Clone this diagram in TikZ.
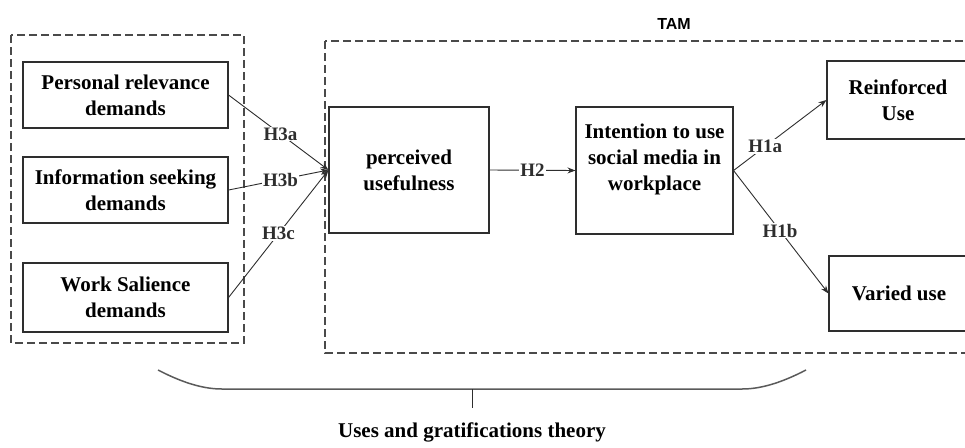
\documentclass[tikz,border=0pt]{standalone}
\usepackage{fontspec}
\setmainfont{Liberation Serif}
\newfontfamily\tamfont{Liberation Sans}
\usepackage{tikz}
\usetikzlibrary{arrows.meta}

\definecolor{linegray}{HTML}{2E2E2E}
\definecolor{dashgray}{HTML}{4A4A4A}
\definecolor{bracegray}{HTML}{5A5A5A}

\begin{document}
\begin{tikzpicture}[x=1pt, y=-1pt, >={Stealth[length=8pt,width=6pt]},
    box/.style={draw=linegray, line width=1.1pt, align=center, inner sep=0pt,
      font=\fontsize{21}{26}\selectfont\bfseries},
    hyp/.style={fill=white, inner sep=1pt, font=\fontsize{19}{21}\selectfont\bfseries},
    frame/.style={draw=dashgray, line width=1.1pt, dash pattern=on 8pt off 4pt}]
    \clip (0,0) rectangle (965,447);

    % dashed frames
    \draw[frame] (11,35) rectangle (244,343);
    \draw[frame] (325,41) rectangle (980,353);
    \node[font=\tamfont\fontsize{16}{18}\selectfont\bfseries] (tam) at (674,24) {TAM};

    % uses and gratifications demands
    \node[box, minimum width=205pt, minimum height=66pt] (pr) at (125.5,95) {Personal relevance\\demands};
    \node[box, minimum width=205pt, minimum height=66pt] (is) at (125.5,190) {Information seeking\\demands};
    \node[box, minimum width=205pt, minimum height=69pt] (ws) at (125.5,297.5) {Work Salience\\demands};

    % TAM part
    \node[box, minimum width=160pt, minimum height=126pt] (pu) at (409,170) {perceived\\usefulness};
    \node[box, minimum width=157pt, minimum height=127pt] (iu) at (654.5,170.5) {Intention to use\\social media in\\workplace\\\mbox{}};
    \node[box, minimum width=142pt, minimum height=78pt] (ru) at (898,100) {Reinforced\\Use};
    \node[box, minimum width=140pt, minimum height=75pt] (vu) at (899,293.5) {Varied use};

    % hypotheses
    \draw[->, linegray, line width=0.9pt] (pr.east) -- node[hyp, pos=0.52] {H3a} (pu.west);
    \draw[->, linegray, line width=0.9pt] (is.east) -- node[hyp, pos=0.52] {H3b} (pu.west);
    \draw[->, linegray, line width=0.9pt] (ws.east) -- node[hyp, pos=0.5] {H3c} (pu.west);
    \draw[->, linegray, line width=0.9pt] (pu.east) -- node[hyp] {H2} (iu.west);
    \draw[->, linegray, line width=0.9pt] (iu.east) -- node[hyp, pos=0.34] {H1a} (ru.west);
    \draw[->, linegray, line width=0.9pt] (iu.east) -- node[hyp, pos=0.49] {H1b} (vu.west);

    % brace
    \draw[bracegray, line width=1.5pt] (158,370) .. controls (185,384) and (205,389) .. (222,389)
      -- (742,389) .. controls (759,389) and (779,384) .. (806,370);
    \coordinate (bracetip) at (472,389);
    \coordinate (ticktip) at (472,408);
    \draw[linegray, line width=0.9pt] (bracetip) -- (ticktip);
    \node[font=\fontsize{21}{24}\selectfont\bfseries] (ugt) at (472,432) {Uses and gratifications theory};
\end{tikzpicture}
\end{document}
